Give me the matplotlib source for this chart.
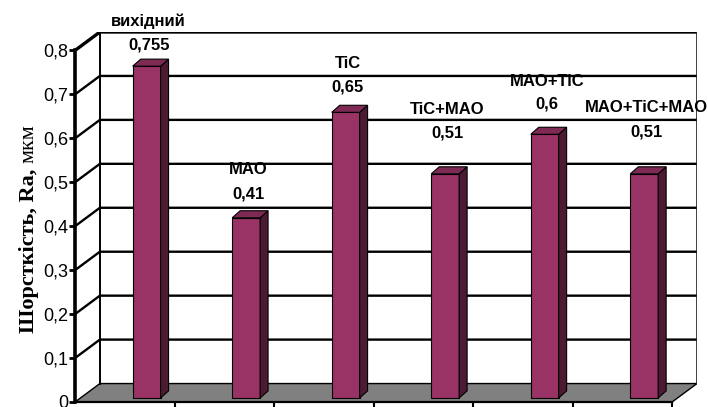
import matplotlib
matplotlib.use("Agg")
import matplotlib.pyplot as plt
from matplotlib.patches import Polygon

# ---- data ----
categories = ['вихідний', 'MAO', 'TiC', 'TiC+MAO', 'MAO+TiC', 'MAO+TiC+MAO']
values = [0.755, 0.41, 0.65, 0.51, 0.6, 0.51]
value_labels = ['0,755', '0,41', '0,65', '0,51', '0,6', '0,51']
yticks = [0, 0.1, 0.2, 0.3, 0.4, 0.5, 0.6, 0.7, 0.8]
ytick_labels = ['0', '0,1', '0,2', '0,3', '0,4', '0,5', '0,6', '0,7', '0,8']
ylabel_main = 'Шорсткість, Ra, '
ylabel_unit = 'мкм'

# ---- style ----
label_offsets_px = [21, 24, 25, 41, 30, 42]
name_gap_px = [24, 24, 24, 23, 23, 24]
DX, DY = 0.25, 0.042          # depth of the 3D box (data units)
F = 0.22                      # depth position of bar front face
BW = 0.28                     # bar width
BDX, BDY = 0.08, 0.016        # bar depth
C = 0.665                     # bar center within category (front plane)
front_col = '#993366'
side_col = '#4d1a33'
top_col = '#7f2a55'
sans = 'Liberation Sans'
serif = 'Liberation Serif'

W, H = 708, 407
fig = plt.figure(figsize=(W / 100, H / 100), dpi=100)
ax = fig.add_axes([75 / W, (H - 402) / H, (697 - 75) / W, (402 - 32) / H])
n = len(categories)
ymax = yticks[-1]
ax.set_xlim(0, n + DX)
ax.set_ylim(0, ymax + DY)
ax.patch.set_alpha(0)

# floor
ax.add_patch(Polygon([(0, 0), (n, 0), (n + DX, DY), (DX, DY)], closed=True,
                     facecolor='#808080', edgecolor='black', lw=1.0, zorder=1))
# back wall grid + left wall lines
for v in yticks[1:]:
    lw = 2.4 if v == ymax else 1.7
    ax.plot([0, DX, n + DX], [v, v + DY, v + DY], color='black', lw=lw,
            solid_capstyle='butt', zorder=1.5)
ax.plot([DX, DX], [DY, ymax + DY], color='black', lw=1.4, zorder=1.5)
ax.plot([n + DX, n + DX], [DY, ymax + DY], color='#222222', lw=1.2, zorder=1.5)

# bars
xs = [i + C + F * DX for i in range(n)]
base = F * DY
ax.bar(xs, values, width=BW, bottom=base, color=front_col, edgecolor='black',
       linewidth=0.8, zorder=3)
for x, v in zip(xs, values):
    r = x + BW / 2
    l = x - BW / 2
    t = v + base
    ax.add_patch(Polygon([(r, base), (r + BDX, base + BDY), (r + BDX, t + BDY), (r, t)],
                         closed=True, facecolor=side_col, edgecolor='black', lw=0.8, zorder=3))
    ax.add_patch(Polygon([(l, t), (r, t), (r + BDX, t + BDY), (l + BDX, t + BDY)],
                         closed=True, facecolor=top_col, edgecolor='black', lw=0.8, zorder=3))

# labels
for x, v, name, vl, off, gap in zip(xs, values, categories, value_labels,
                                     label_offsets_px, name_gap_px):
    xc = x + BDX / 4
    ax.annotate(vl, xy=(xc, v + base), xytext=(0, off), textcoords='offset pixels',
                ha='center', va='center', fontsize=12, fontweight='bold',
                family=sans, zorder=5, annotation_clip=False)
    ax.annotate(name, xy=(xc, v + base), xytext=(0, off + gap), textcoords='offset pixels',
                ha='center', va='center', fontsize=12, fontweight='bold',
                family=sans, zorder=5, annotation_clip=False)

# axes
for s in ['top', 'right']:
    ax.spines[s].set_visible(False)
ax.spines['left'].set_bounds(0, ymax)
ax.spines['left'].set_linewidth(2.6)
ax.spines['bottom'].set_bounds(0, n)
ax.spines['bottom'].set_linewidth(1.6)
ax.spines['left'].set_zorder(4)
ax.set_yticks(yticks)
ax.set_yticklabels(ytick_labels, family=sans, fontsize=13)
ax.tick_params(axis='y', direction='out', length=4, width=2, pad=1)
ax.set_xticks(range(1, n + 1))
ax.set_xticklabels([])
ax.tick_params(axis='x', direction='out', length=5, width=1.5)

# y label: bold main part + regular unit
t1 = fig.text(34 / W, 1 - 333 / H, ylabel_main, rotation=90, rotation_mode='anchor',
              ha='left', va='baseline', family=serif, fontweight='bold', fontsize=16)
fig.canvas.draw()
bb = t1.get_window_extent()
fig.text(34 / W, bb.y1 / fig.bbox.height, ylabel_unit, rotation=90, rotation_mode='anchor',
         ha='left', va='baseline', family=serif, fontsize=16)

fig.savefig('out.png', dpi=100)
